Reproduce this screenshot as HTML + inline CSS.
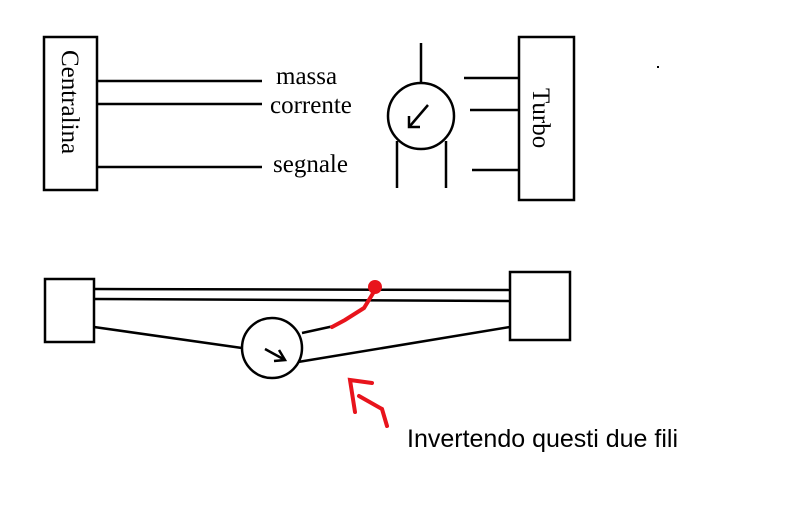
<!DOCTYPE html>
<html><head><style>
body{margin:0;background:#fff;}
svg{display:block;}
.s{font-family:"Liberation Serif",serif;font-size:25px;}
</style></head><body>
<svg width="788" height="509" viewBox="0 0 788 509" xmlns="http://www.w3.org/2000/svg">
<g stroke="#000" stroke-width="2.5" fill="none">
<rect x="44" y="37" width="53" height="153"/>
<line x1="97" y1="81" x2="262" y2="81"/>
<line x1="97" y1="104" x2="262" y2="104"/>
<line x1="97" y1="167" x2="262" y2="167"/>
<circle cx="421" cy="116" r="33"/>
<line x1="421" y1="43" x2="421" y2="83"/>
<line x1="397" y1="141" x2="397" y2="188"/>
<line x1="446" y1="141" x2="446" y2="188"/>
<line x1="428" y1="105" x2="410" y2="126"/>
<polyline points="409,116 409,127 420,127"/>
<rect x="519" y="37" width="55" height="163"/>
<line x1="464" y1="78" x2="519" y2="78"/>
<line x1="470" y1="110" x2="519" y2="110"/>
<line x1="472" y1="170" x2="519" y2="170"/>
<rect x="45" y="279" width="49" height="63"/>
<rect x="510" y="272" width="60" height="68"/>
<line x1="94" y1="289" x2="510" y2="290"/>
<line x1="94" y1="299" x2="510" y2="301"/>
<line x1="94" y1="327" x2="242" y2="348"/>
<circle cx="272" cy="348" r="30"/>
<line x1="302" y1="333" x2="334" y2="326"/>
<line x1="298" y1="362" x2="510" y2="327"/>
<line x1="265" y1="349" x2="285" y2="360"/>
<polyline points="279,350 285,360 274,361"/>
</g>
<g stroke="#e8141c" stroke-width="4" fill="none" stroke-linecap="round">
<polyline points="375,290 364,308 345,320 332,327"/>
<polyline points="355,412 350,380 372,383"/>
<polyline points="359,396 382,409 387,426"/>
</g>
<circle cx="375" cy="287" r="7" fill="#e8141c"/>
<text class="s" x="276" y="84">massa</text>
<text class="s" x="270" y="113">corrente</text>
<text class="s" x="273" y="172">segnale</text>
<text class="s" transform="translate(62,50) rotate(90)">Centralina</text>
<text class="s" transform="translate(533,88) rotate(90)">Turbo</text>
<text x="407" y="447" font-family="Liberation Sans,sans-serif" font-size="25">Invertendo questi due fili</text>
<rect x="657" y="66" width="2" height="2" fill="#000"/>
</svg>
</body></html>
